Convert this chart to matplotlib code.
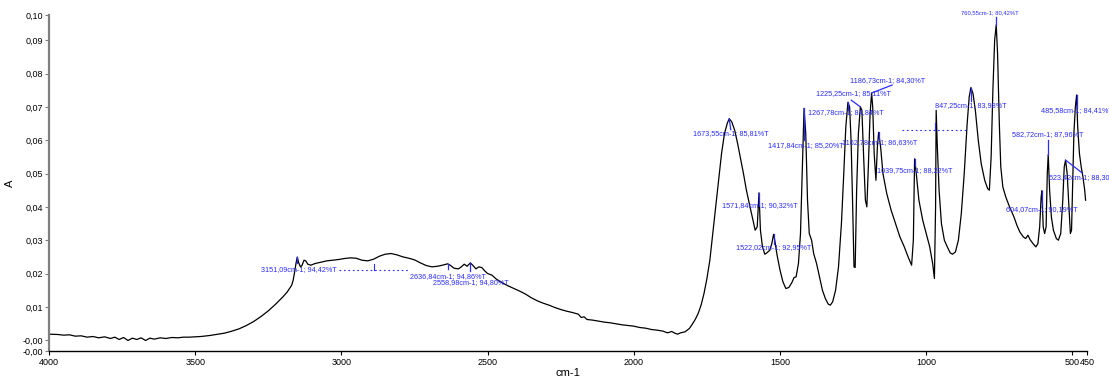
import numpy as np
import matplotlib
matplotlib.use("Agg")
import matplotlib.pyplot as plt

plt.rcParams['font.family'] = ['Liberation Sans', 'DejaVu Sans']

# Spectrum trace (wavenumber in cm-1, absorbance) between the labelled peaks
base_wn = [
    4000, 3970, 3950, 3930, 3910, 3890, 3870, 3850, 3830, 3810, 3790, 3775, 3760,
    3745, 3730, 3715, 3700, 3685, 3670, 3655, 3640, 3620, 3600, 3580, 3560, 3540,
    3520, 3500, 3480, 3450, 3420, 3400, 3375, 3350, 3325, 3300, 3275, 3250, 3225,
    3200, 3185, 3170, 3165, 3160, 3155, 3146, 3140, 3135, 3128, 3122, 3115, 3105,
    3090, 3070, 3050, 3030, 3010, 2990, 2970, 2950, 2930, 2910, 2890, 2870, 2850,
    2830, 2810, 2790, 2770, 2750, 2730, 2710, 2690, 2670, 2650, 2628, 2615, 2600,
    2590, 2580, 2570, 2550, 2540, 2530, 2520, 2510, 2500, 2485, 2470, 2450, 2430,
    2410, 2390, 2370, 2350, 2330, 2310, 2290, 2270, 2250, 2230, 2210, 2190, 2180,
    2170, 2160, 2140, 2120, 2100, 2080, 2060, 2040, 2020, 2000, 1980, 1960, 1940,
    1920, 1900, 1885, 1870, 1860, 1850, 1840, 1825, 1810, 1800, 1790, 1780, 1770,
    1760, 1750, 1740, 1730, 1720, 1710, 1700, 1690, 1680, 1665, 1655, 1645, 1635,
    1625, 1615, 1605, 1595, 1585, 1578, 1567, 1560, 1552, 1545, 1535, 1528, 1518,
    1510, 1500, 1490, 1480, 1470, 1460, 1452, 1445, 1437, 1430, 1424, 1412, 1406,
    1400, 1392, 1385, 1375, 1365, 1355, 1345, 1335, 1328, 1320, 1310, 1300, 1290,
    1282, 1275, 1262, 1257, 1252, 1247, 1243, 1238, 1232, 1220, 1214, 1208, 1203,
    1198, 1192, 1183, 1178, 1172, 1167, 1156, 1148, 1135, 1120, 1105, 1090, 1075,
    1062, 1050, 1044, 1034, 1025, 1012, 1000, 988, 978, 972, 968, 966, 962, 956,
    948, 938, 928, 918, 910, 900, 890, 880, 870, 860, 853, 840, 832, 822, 812, 800,
    790, 784, 778, 772, 766, 756, 750, 745, 738, 728, 715, 700, 690, 680, 668, 660,
    652, 645, 635, 625, 618, 612, 607, 600, 595, 590, 586, 578, 572, 565, 555, 548,
    540, 533, 528, 518, 512, 507, 503, 499, 495, 490, 482, 476, 470, 464, 458, 455,
]
base_abs = [
    0.0018, 0.0017, 0.0015, 0.0016, 0.0012, 0.0013, 0.0009, 0.0011, 0.0007, 0.0010,
    0.0005, 0.0009, 0.0002, 0.0008, -0.0001, 0.0006, 0.0002, 0.0007, -0.0001, 0.0006,
    0.0003, 0.0007, 0.0005, 0.0008, 0.0007, 0.0009, 0.0009, 0.0010, 0.0011, 0.0014,
    0.0018, 0.0021, 0.0027, 0.0034, 0.0044, 0.0056, 0.0071, 0.0088, 0.0108, 0.0130,
    0.0145, 0.0165, 0.0180, 0.0205, 0.0232, 0.0232, 0.0220, 0.0224, 0.0240, 0.0238,
    0.0228, 0.0225, 0.0230, 0.0234, 0.0238, 0.0240, 0.0242, 0.0245, 0.0247, 0.0246,
    0.0240, 0.0238, 0.0243, 0.0252, 0.0258, 0.0260, 0.0256, 0.0250, 0.0246, 0.0241,
    0.0232, 0.0224, 0.0220, 0.0222, 0.0226, 0.0225, 0.0216, 0.0214, 0.0220, 0.0228,
    0.0222, 0.0224, 0.0214, 0.0220, 0.0218, 0.0208, 0.0200, 0.0195, 0.0183, 0.0172,
    0.0163, 0.0155, 0.0147, 0.0138, 0.0127, 0.0118, 0.0111, 0.0105, 0.0098, 0.0092,
    0.0087, 0.0083, 0.0078, 0.0068, 0.0070, 0.0062, 0.0060, 0.0057, 0.0054, 0.0052,
    0.0049, 0.0046, 0.0044, 0.0042, 0.0038, 0.0036, 0.0032, 0.0030, 0.0027, 0.0022,
    0.0026, 0.0021, 0.0018, 0.0022, 0.0025, 0.0035, 0.0048, 0.0062, 0.0080, 0.0105,
    0.0140, 0.0185, 0.0240, 0.0320, 0.0400, 0.0480, 0.0560, 0.0620, 0.0652, 0.0655,
    0.0630, 0.0590, 0.0545, 0.0500, 0.0450, 0.0410, 0.0370, 0.0330, 0.0340, 0.0330,
    0.0280, 0.0258, 0.0262, 0.0270, 0.0290, 0.0300, 0.0255, 0.0210, 0.0175, 0.0155,
    0.0158, 0.0172, 0.0188, 0.0190, 0.0230, 0.0320, 0.0500, 0.0620, 0.0420, 0.0320,
    0.0300, 0.0260, 0.0230, 0.0190, 0.0150, 0.0125, 0.0108, 0.0105, 0.0115, 0.0150,
    0.0220, 0.0350, 0.0500, 0.0640, 0.0700, 0.0600, 0.0420, 0.0220, 0.0218, 0.0450,
    0.0620, 0.0690, 0.0550, 0.0420, 0.0400, 0.0520, 0.0680, 0.0700, 0.0560, 0.0480,
    0.0580, 0.0580, 0.0500, 0.0440, 0.0390, 0.0350, 0.0310, 0.0280, 0.0250, 0.0225,
    0.0300, 0.0500, 0.0420, 0.0360, 0.0320, 0.0280, 0.0230, 0.0185, 0.0400, 0.0690,
    0.0580, 0.0450, 0.0350, 0.0300, 0.0280, 0.0262, 0.0258, 0.0265, 0.0300, 0.0380,
    0.0500, 0.0650, 0.0730, 0.0740, 0.0690, 0.0600, 0.0530, 0.0480, 0.0455, 0.0450,
    0.0550, 0.0750, 0.0900, 0.0860, 0.0650, 0.0520, 0.0460, 0.0430, 0.0400, 0.0370,
    0.0345, 0.0325, 0.0310, 0.0305, 0.0315, 0.0302, 0.0290, 0.0280, 0.0290, 0.0340,
    0.0430, 0.0340, 0.0320, 0.0340, 0.0500, 0.0450, 0.0370, 0.0330, 0.0305, 0.0300,
    0.0320, 0.0420, 0.0520, 0.0500, 0.0400, 0.0320, 0.0330, 0.0480, 0.0620, 0.0700,
    0.0640, 0.0560, 0.0520, 0.0490, 0.0450, 0.0420,
]

# Picked peaks: position (cm-1) and transmittance (%T)
peak_wn = [3151.09, 2636.84, 2558.98, 1673.55, 1571.84, 1522.02, 1417.84, 1267.78,
           1225.25, 1186.73, 1162.78, 1039.75, 847.25, 760.55, 604.07, 582.72,
           523.42, 485.58]
peak_T = [94.42, 94.86, 94.80, 85.81, 90.32, 92.95, 85.20, 84.84, 85.11, 84.30,
          86.63, 88.22, 83.98, 80.42, 90.19, 87.96, 88.30, 84.41]

x_ticks = [4000, 3500, 3000, 2500, 2000, 1500, 1000, 500, 450]


def fmt(v, nd=2):
    return f"{v:.{nd}f}".replace(".", ",")


peak_abs = -np.log10(np.array(peak_T) / 100.0)

wn = np.concatenate([np.array(base_wn, float), np.array(peak_wn)])
ab = np.concatenate([np.array(base_abs), peak_abs])
order = np.argsort(-wn)
wn, ab = wn[order], ab[order]

fig = plt.figure(figsize=(11.09, 3.79), dpi=100)
ax = fig.add_axes([0.0442, 0.0726, 0.9360, 0.8870])

ax.plot(wn, ab, color="black", lw=0.9)

y_lo, y_hi = -0.0034, 0.0975
ax.set_xlim(4000, 450)
ax.set_ylim(y_lo, y_hi)

ax.set_xticks(x_ticks)
ax.set_xticklabels([str(v) for v in x_ticks])

yt = [y_lo, 0.0] + [round(0.01 * k, 2) for k in range(1, 10)] + [y_hi]
ax.set_yticks(yt)
ax.set_yticklabels(["-0,00", "-0,00"] + [fmt(v) for v in yt[2:-1]] + ["0,10"])

ax.tick_params(axis="both", labelsize=6.5, length=3, width=0.8, pad=1.5)
ax.tick_params(axis="y", color="#808080")
for s in ("top", "right"):
    ax.spines[s].set_visible(False)
ax.spines["left"].set_color("#808080")
ax.spines["left"].set_linewidth(1.6)
ax.spines["bottom"].set_linewidth(1.0)

ax.set_xlabel("cm-1", fontsize=8, labelpad=1)
ax.set_ylabel("A", fontsize=8)
ax.yaxis.set_label_coords(-0.033, 0.5)

blue = "#2b2bff"

# label anchor (cm-1, A) and marker end relative to each peak
label_xy = [(3276, 0.0213), (2767, 0.0192), (2688, 0.0174), (1796, 0.0619),
            (1697, 0.0405), (1649, 0.0279), (1540, 0.0583), (1403, 0.0682),
            (1376, 0.0739), (1260, 0.0778), (1287, 0.0592), (1168, 0.0508),
            (970, 0.0703), (881, 0.0982), (727, 0.0393), (706, 0.0616),
            (580, 0.0489), (608, 0.0688)]
marker_end = [(0, -0.0018), (0, -0.0015), (0, -0.0024), (5, -0.0033),
              (0, -0.0036), (0, -0.0030), (0, -0.0096), (0, -0.0024),
              (-31, 0.0020), (70, 0.0024), (0, -0.0024), (0, -0.0021),
              (0, -0.0040), (0, 0.0024), (0, -0.0042), (0, 0.0045),
              (56, -0.0038), (0, -0.0039)]

for w, a, (lx, ly), (dx, dy) in zip(peak_wn, peak_abs, label_xy, marker_end):
    small = abs(w - 760.55) < 0.1
    ax.text(lx, ly, f"{fmt(w)}cm-1; {fmt(100 * 10 ** (-a))}%T",
            color=blue, fontsize=4.2 if small else 5.2, ha="left", va="center",
            clip_on=False)
    ax.plot([w, w - dx], [a, a + dy], color=blue, lw=0.9, clip_on=False)

# dotted guides left by overlapping labels
ax.plot([3009, 2773], [0.0210, 0.0210], color=blue, lw=0.8, ls=(0, (1.5, 2.5)))
ax.plot([2890, 2890], [0.0210, 0.0228], color=blue, lw=0.8)
ax.plot([1082, 864], [0.0630, 0.0630], color=blue, lw=0.8, ls=(0, (1.5, 2.5)))
ax.plot([970, 970], [0.0630, 0.0652], color=blue, lw=0.8)

fig.savefig("out.png", dpi=100)
